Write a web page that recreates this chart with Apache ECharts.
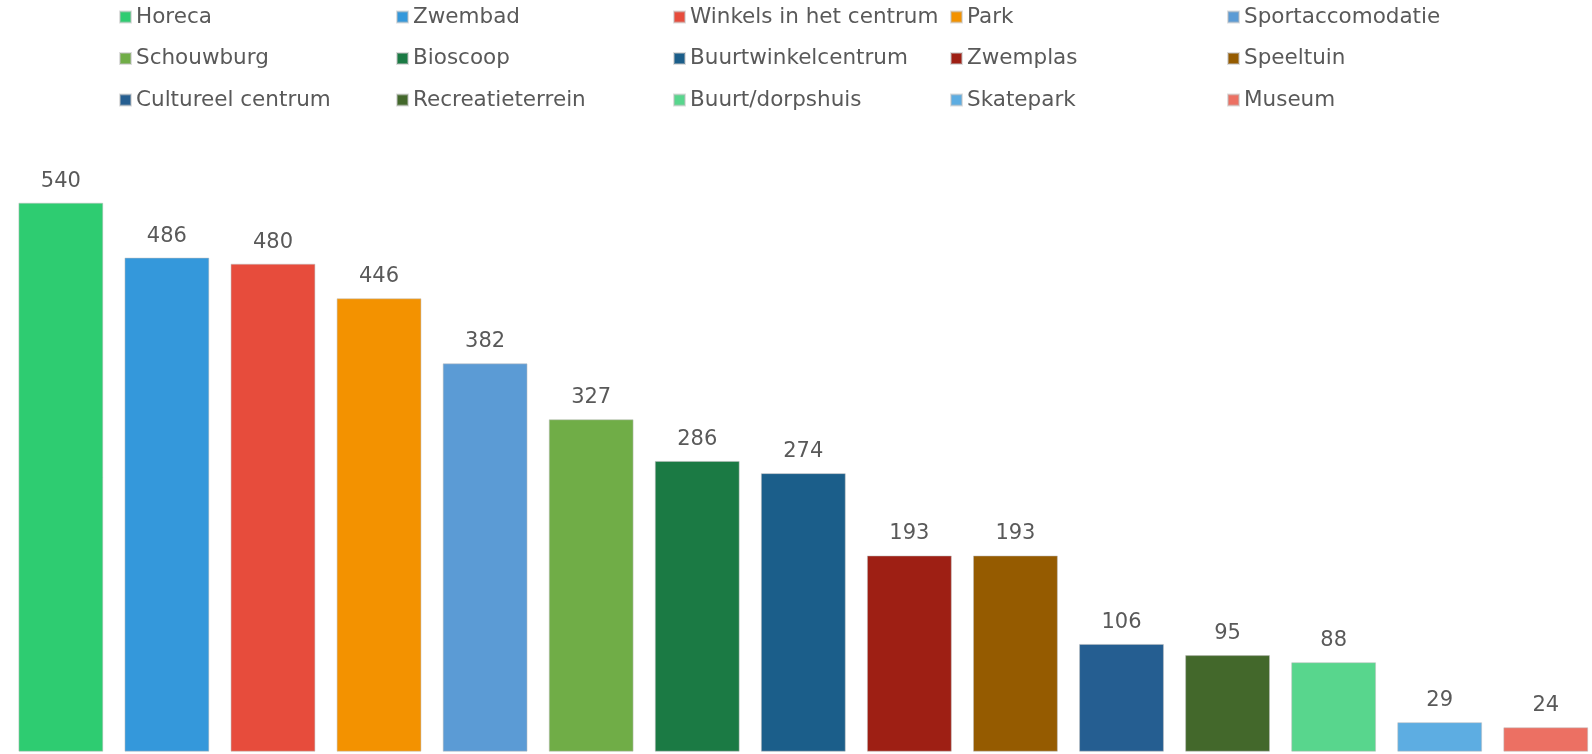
<!DOCTYPE html>
<html>
<head>
<meta charset="utf-8">
<script src="https://cdn.jsdelivr.net/npm/echarts@6/dist/echarts.min.js"></script>
<style>
  html, body { margin: 0; padding: 0; background: #fff; overflow: hidden; }
  /* iets breder dan het venster: de laatste balk loopt tot de rand */
  #main { width: 1600px; height: 754px; }
</style>
</head>
<body>
<div id="main"></div>
<script>
// categorieen en aantallen
var categories = ['Horeca', 'Zwembad', 'Winkels in het centrum', 'Park', 'Sportaccomodatie',
    'Schouwburg', 'Bioscoop', 'Buurtwinkelcentrum', 'Zwemplas', 'Speeltuin',
    'Cultureel centrum', 'Recreatieterrein', 'Buurt/dorpshuis', 'Skatepark', 'Museum'];
var values = [540, 486, 480, 446, 382, 327, 286, 274, 193, 193, 106, 95, 88, 29, 24];
var colors = ['#2ECC71', '#3498DB', '#E74C3C', '#F39200', '#5B9BD5',
    '#70AD47', '#1B7A44', '#1B5E8A', '#9E1F14', '#955B00',
    '#255E91', '#43682B', '#58D68D', '#5DADE2', '#EC7063'];

var textColor = '#595959';
var fontFamily = '"DejaVu Sans", Verdana, sans-serif';

var myChart = echarts.init(document.getElementById('main'));

// één serie per categorie, zodat de legenda werkt
var series = categories.map(function (name, i) {
    return {
        name: name,
        type: 'bar',
        stack: 'totaal',
        barCategoryGap: '20%',
        itemStyle: { color: colors[i], borderColor: 'rgba(190,190,190,0.5)', borderWidth: 1 },
        label: {
            show: true,
            position: 'top',
            distance: 11,
            color: textColor,
            fontSize: 21,
            fontFamily: fontFamily
        },
        data: categories.map(function (c, j) { return j === i ? values[i] : null; })
    };
});

// legenda: 5 kolommen van 3 rijen
var legends = [];
for (var col = 0; col < 5; col++) {
    legends.push({
        orient: 'vertical',
        left: 119 + 277 * col,
        top: 6,
        padding: 0,
        icon: 'rect',
        itemWidth: 11,
        itemHeight: 11,
        itemGap: 19.5,
        textStyle: { color: textColor, fontSize: 21.5, fontFamily: fontFamily, lineHeight: 22 },
        data: [categories[col], categories[col + 5], categories[col + 10]]
    });
}

var option = {
    animation: false,
    color: colors,
    legend: legends,
    grid: {
        left: 7.8,
        top: 141.7,
        width: 1591,
        height: 610,
        containLabel: false
    },
    xAxis: {
        type: 'category',
        data: categories,
        axisLine: { show: false },
        axisTick: { show: false },
        axisLabel: { show: false }
    },
    yAxis: {
        type: 'value',
        min: 0,
        max: 600,
        show: false,
        splitLine: { show: false }
    },
    series: series
};

myChart.setOption(option);
</script>
</body>
</html>
